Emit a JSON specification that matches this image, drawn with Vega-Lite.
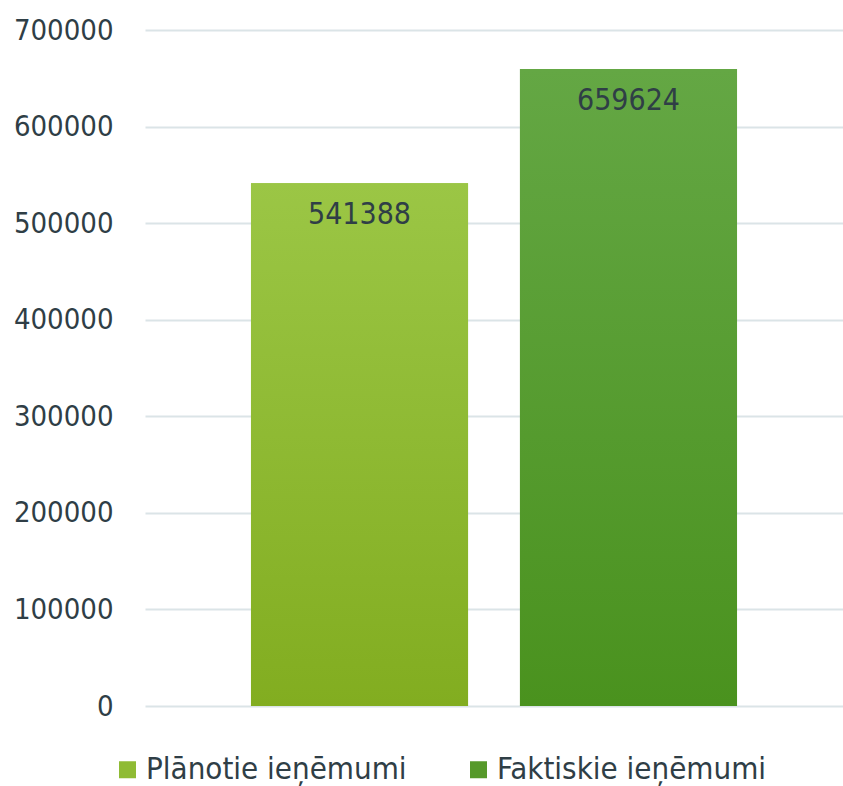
{
  "$schema": "https://vega.github.io/schema/vega-lite/v6.json",
  "autosize": "none",
  "width": 698,
  "height": 676,
  "padding": {"left": 145, "top": 30, "right": 0, "bottom": 80},
  "background": "white",
  "config": {
    "view": {"stroke": null},
    "font": "DejaVu Sans Condensed, DejaVu Sans",
    "axis": {"labelFont": "DejaVu Sans Condensed, DejaVu Sans", "labelColor": "#2f3e46"},
    "legend": {"labelFont": "DejaVu Sans Condensed, DejaVu Sans", "labelColor": "#2f3e46"}
  },
  "data": {
    "values": [
      {"series": "Plānotie ieņēmumi", "value": 541388},
      {"series": "Faktiskie ieņēmumi", "value": 659624}
    ]
  },
  "encoding": {
    "x": {
      "field": "series",
      "type": "nominal",
      "sort": ["Plānotie ieņēmumi", "Faktiskie ieņēmumi"],
      "scale": {"paddingInner": 0.193, "paddingOuter": 0.394},
      "axis": null
    },
    "y": {
      "field": "value",
      "type": "quantitative",
      "scale": {"domain": [0, 700000], "nice": false},
      "axis": {
        "title": null,
        "values": [0, 100000, 200000, 300000, 400000, 500000, 600000, 700000],
        "format": "d",
        "domain": false,
        "ticks": false,
        "labelFontSize": 29,
        "labelPadding": 32,
        "gridColor": "#dbe4e7",
        "gridWidth": 2
      }
    }
  },
  "layer": [
    {
      "mark": {"type": "bar"},
      "encoding": {
        "color": {
          "field": "series",
          "type": "nominal",
          "sort": ["Plānotie ieņēmumi", "Faktiskie ieņēmumi"],
          "scale": {"domain": ["Plānotie ieņēmumi", "Faktiskie ieņēmumi"], "range": ["#8fbb34", "#56992a"]},
          "legend": {
            "title": null,
            "orient": "none",
            "direction": "horizontal",
            "legendX": -33,
            "legendY": 724,
            "symbolType": "square",
            "symbolSize": 289,
            "symbolStrokeWidth": 0,
            "labelFontSize": 31,
            "labelOffset": 3,
            "columnPadding": 56,
            "labelLimit": 400
          }
        }
      }
    },
    {
      "transform": [{"filter": "datum.series === 'Plānotie ieņēmumi'"}],
      "mark": {
        "type": "bar",
        "color": {
          "gradient": "linear", "x1": 0, "y1": 0, "x2": 0, "y2": 1,
          "stops": [{"offset": 0, "color": "#9bc645"}, {"offset": 1, "color": "#82ad20"}]
        }
      }
    },
    {
      "transform": [{"filter": "datum.series === 'Faktiskie ieņēmumi'"}],
      "mark": {
        "type": "bar",
        "color": {
          "gradient": "linear", "x1": 0, "y1": 0, "x2": 0, "y2": 1,
          "stops": [{"offset": 0, "color": "#64a744"}, {"offset": 1, "color": "#4a921e"}]
        }
      }
    },
    {
      "mark": {"type": "text", "baseline": "middle", "dy": 32, "fontSize": 30, "color": "#2f3e46"},
      "encoding": {"text": {"field": "value", "type": "quantitative", "format": "d"}}
    }
  ]
}
